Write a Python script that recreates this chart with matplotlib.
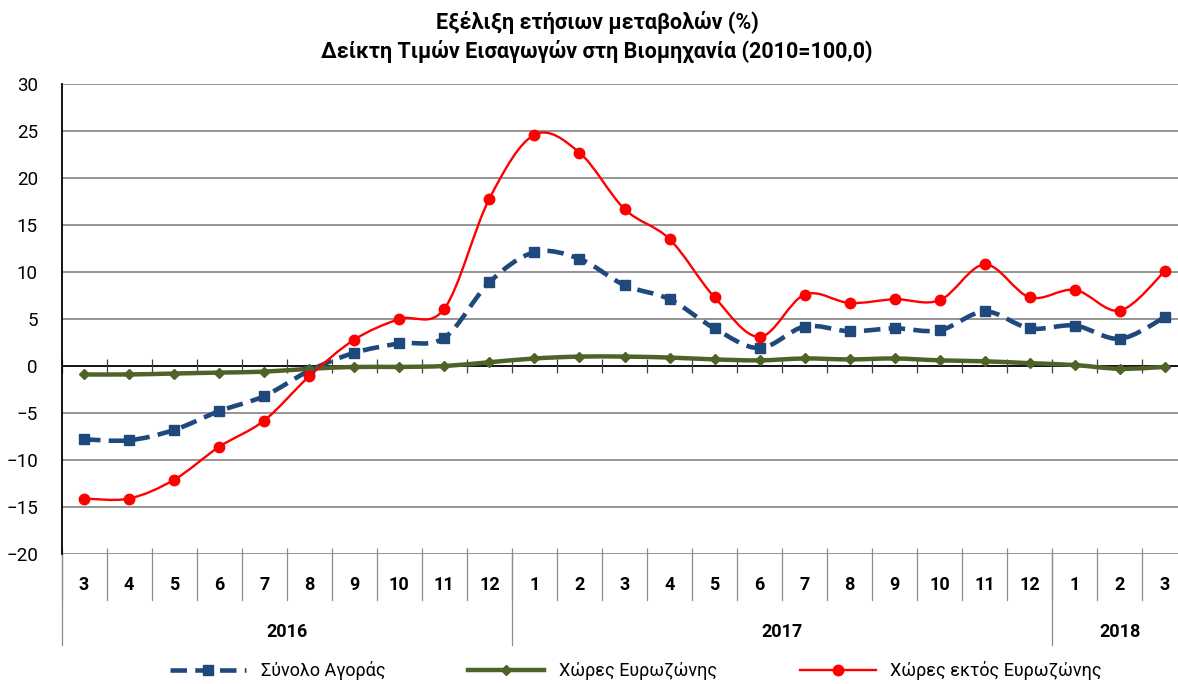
import matplotlib.pyplot as plt
import numpy as np
from matplotlib.path import Path
from matplotlib.patches import PathPatch
from matplotlib.lines import Line2D

plt.rcParams['font.family'] = ['Roboto', 'DejaVu Sans']

months = ["3", "4", "5", "6", "7", "8", "9", "10", "11", "12",
          "1", "2", "3", "4", "5", "6", "7", "8", "9", "10", "11", "12",
          "1", "2", "3"]
years = ["2016", "2017", "2018"]
year_counts = [10, 12, 3]

total = [-7.8, -7.9, -6.8, -4.8, -3.2, -0.5, 1.4, 2.4, 3.0, 8.9,
         12.1, 11.4, 8.6, 7.1, 4.0, 1.9, 4.2, 3.7, 4.0, 3.8, 5.8, 4.0,
         4.3, 2.9, 5.2]
euro = [-0.9, -0.9, -0.8, -0.7, -0.6, -0.3, -0.1, -0.1, 0.0, 0.4,
        0.8, 1.0, 1.0, 0.9, 0.7, 0.6, 0.8, 0.7, 0.8, 0.6, 0.5, 0.3,
        0.1, -0.3, -0.1]
non_euro = [-14.1, -14.1, -12.1, -8.6, -5.8, -1.1, 2.8, 5.0, 6.1, 17.8,
            24.6, 22.7, 16.7, 13.5, 7.3, 3.1, 7.6, 6.7, 7.1, 7.0, 10.8, 7.3,
            8.1, 5.9, 10.1]

labels = ["Σύνολο Αγοράς", "Χώρες Ευρωζώνης", "Χώρες εκτός Ευρωζώνης"]
colors = ["#1f497d", "#4f6228", "#ff0000"]


def smooth_path(y):
    # bezier through the points, like a spreadsheet's smoothed line
    p = np.column_stack([np.arange(len(y), dtype=float), y])
    n = len(p)
    verts = [p[0]]
    codes = [Path.MOVETO]
    for i in range(n - 1):
        p0 = p[max(i - 1, 0)]
        p1 = p[i]
        p2 = p[i + 1]
        p3 = p[min(i + 2, n - 1)]
        verts += [p1 + (p2 - p0) / 6, p2 - (p3 - p1) / 6, p2]
        codes += [Path.CURVE4] * 3
    return Path(verts, codes)


fig = plt.figure(figsize=(11.78, 6.84), dpi=100)
ax = fig.add_axes([61.5 / 1178, 130 / 684, 1126 / 1178, 470 / 684])

ax.set_xlim(-0.5, 24.5)
ax.set_ylim(-20, 30)
ax.set_yticks(range(-20, 31, 5))
for v in range(-20, 31, 5):
    if v != 0:
        ax.axhline(v, color="#8c8c8c", lw=1.3, zorder=1)
ax.axhline(0, color="black", lw=1.3, zorder=2)

for s in ["top", "right", "bottom"]:
    ax.spines[s].set_visible(False)
ax.spines["left"].set_linewidth(1.3)
ax.tick_params(axis="y", length=0, pad=17, labelsize=13.5)
ax.set_xticks([])

bounds = np.arange(-0.5, 25, 1)
ax.vlines(bounds, -0.7, 0.7, color="#404040", lw=0.9, zorder=2)
ax.vlines(bounds, -20, -19.35, color="#8c8c8c", lw=0.9, zorder=2)

xt = ax.get_xaxis_transform()
for b in bounds:
    ax.add_line(Line2D([b, b], [0, -46 / 470], transform=xt, color="#8c8c8c",
                       lw=0.9, clip_on=False))
start = -0.5
for yr, cnt in zip(years, year_counts):
    ax.add_line(Line2D([start, start], [0, -91 / 470], transform=xt,
                       color="#8c8c8c", lw=0.9, clip_on=False))
    ax.text(start + cnt / 2, -78 / 470, yr, transform=xt, ha="center",
            va="center", fontsize=13, fontweight="bold")
    start += cnt
for i, m in enumerate(months):
    ax.text(i, -31 / 470, m, transform=xt, ha="center", va="center",
            fontsize=13, fontweight="bold")

x = np.arange(len(months))
styles = [
    dict(ls=(0, (3.6, 1.8)), lw=3.3, marker="s", ms=7),
    dict(ls="-", lw=3.2, marker="D", ms=5),
    dict(ls="-", lw=1.7, marker="o", ms=7.5),
]
handles = []
for data, col, st in zip([total, euro, non_euro], colors, styles):
    ax.add_patch(PathPatch(smooth_path(np.array(data)), fill=False,
                           edgecolor=col, lw=st["lw"], linestyle=st["ls"],
                           zorder=3))
    ax.plot(x, data, ls="none", marker=st["marker"], ms=st["ms"], color=col,
            zorder=4)
    handles.append(Line2D([], [], color=col, lw=st["lw"], ls=st["ls"],
                          marker=st["marker"], ms=st["ms"]))

fig.legend(handles, labels, loc="center", bbox_to_anchor=(0.54, 1 - 671 / 684),
           ncol=3, frameon=False, handlelength=4.2, columnspacing=4.6,
           fontsize=13)

fig.text(0.507, 1 - 22 / 684, "Εξέλιξη ετήσιων μεταβολών (%)", ha="center",
         va="center", fontsize=15.5, fontweight="bold")
fig.text(0.507, 1 - 51 / 684, "Δείκτη Τιμών Εισαγωγών στη Βιομηχανία (2010=100,0)",
         ha="center", va="center", fontsize=15.5, fontweight="bold")

fig.savefig("out.png", dpi=100)
